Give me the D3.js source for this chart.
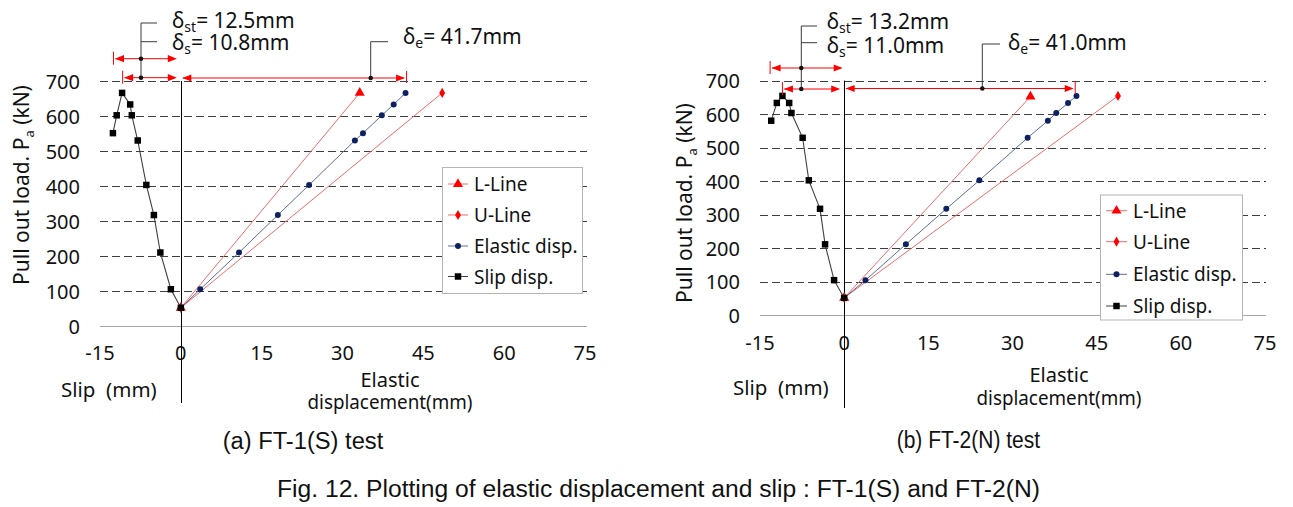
<!DOCTYPE html>
<html><head><meta charset="utf-8">
<script src="https://cdn.jsdelivr.net/npm/d3@7"></script>
<style>body{margin:0;background:#fff}svg{display:block}</style>
</head><body>
<script>
// ---------- data ----------
const xTicks = [-15, 0, 15, 30, 45, 60, 75];
const yTicks = [0, 100, 200, 300, 400, 500, 600, 700];
const legendNames = ["L-Line", "U-Line", "Elastic disp.", "Slip disp."];

// (a) FT-1(S)
const slipA_x = [0, -1.85, -3.8, -5.0, -6.4, -8.0, -9.1, -9.4, -10.9, -11.9, -12.6];
const slipA_y = [52, 105, 210, 317, 403, 530, 602, 633, 666, 602, 551];
const elasticA_x = [0, 3.6, 10.8, 18.0, 23.8, 32.3, 33.8, 37.3, 39.5, 41.7];
const elasticA_y = [52, 105, 210, 317, 403, 530, 551, 602, 633, 666];
const lLineA_x = [0, 33.2], lLineA_y = [52, 666];
const uLineA_x = [0, 48.5], uLineA_y = [52, 666];
const deltaA = {st: 12.5, s: 10.8, e: 41.7};

// (b) FT-2(N)
const slipB_x = [0, -1.8, -3.4, -4.3, -6.3, -7.4, -9.4, -9.8, -11.0, -12.0, -13.0];
const slipB_y = [51, 104, 211, 317, 402, 529, 603, 633, 654, 633, 580];
const elasticB_x = [0, 3.8, 11.0, 18.2, 24.1, 32.7, 36.3, 37.8, 39.9, 41.4];
const elasticB_y = [51, 104, 211, 317, 402, 529, 580, 603, 633, 654];
const lLineB_x = [0, 33.2], lLineB_y = [51, 652];
const uLineB_x = [0, 48.8], uLineB_y = [51, 654];
const deltaB = {st: 13.2, s: 11.0, e: 41.0};

const captionA = "(a) FT-1(S) test";
const captionB = "(b) FT-2(N) test";
const figCaption = "Fig. 12. Plotting of elastic displacement and slip : FT-1(S) and FT-2(N)";

// ---------- layout ----------
const W = 1293, H = 507;
const FONT = "'Noto Sans', 'DejaVu Sans', sans-serif";
const CAPFONT = "'Liberation Sans', 'Arimo', sans-serif";
const RED = "#ff0000", REDLINE = "#f06a6a", NAVY = "#0d2160", BLUELINE = "#5b6f9a", SLIPLINE = "#404040";

const panels = [
  { slipX: slipA_x, slipY: slipA_y, elX: elasticA_x, elY: elasticA_y,
    lX: lLineA_x, lY: lLineA_y, uX: uLineA_x, uY: uLineA_y, delta: deltaA,
    xr: [100, 585], yr: [326, 81], gridX0: 100, gridX1: 587, yTickX: 80, xTickBase: 360, vBottom: 403,
    yTitle: {x: 22, y: 185}, slipLbl: {x: 61, y: 397}, elLbl: {x: 390, y1: 386.5, y2: 409},
    legend: {x: 442.5, y: 167.5, w: 140, h: 126, rows: [184, 215, 246, 276.5], lx0: 448, lx1: 468, tx: 474},
    ann: {rowSt: 58.7, rowS: 77.7, rowE: 78, dotX: 141, dotEX: 370.7, stubSt: 23, stubS: 41.7, stubEnd: 157,
          textX: 172, textStY: 27.5, textSY: 50, eStub: 41.7, eStubEnd: 388, eTextX: 403, eTextY: 44.3,
          insetR: 4, insetR2: 4},
    caption: captionA, capX: 222.7, capW: 160.6, capY: 449 },
  { slipX: slipB_x, slipY: slipB_y, elX: elasticB_x, elY: elasticB_y,
    lX: lLineB_x, lY: lLineB_y, uX: uLineB_x, uY: uLineB_y, delta: deltaB,
    xr: [760, 1265], yr: [315, 80.5], gridX0: 760, gridX1: 1266, yTickX: 740, xTickBase: 350, vBottom: 408,
    yTitle: {x: 685, y: 203}, slipLbl: {x: 733, y: 395}, elLbl: {x: 1059, y1: 381.5, y2: 405},
    legend: {x: 1100.5, y: 195, w: 142, h: 125, rows: [210.7, 241.7, 274.3, 306], lx0: 1106, lx1: 1127, tx: 1133},
    ann: {rowSt: 68, rowS: 89, rowE: 88.5, dotX: 801.3, dotEX: 982.3, stubSt: 26, stubS: 42.7, stubEnd: 817,
          textX: 826.7, textStY: 29.3, textSY: 52.5, eStub: 44, eStubEnd: 1000, eTextX: 1008, eTextY: 50,
          insetR: 1.5, insetR2: 4},
    caption: captionB, capX: 896.7, capW: 143.3, capY: 448 }
];

const svg = d3.select("body").append("svg")
  .attr("width", W).attr("height", H)
  .style("font-family", FONT);

const sym = {
  tri: d3.symbol(d3.symbolTriangle, 44),
  dia: d3.symbol(d3.symbolDiamond, 30),
  cir: d3.symbol(d3.symbolCircle, 28),
  sq: d3.symbol(d3.symbolSquare, 42)
};

function arrowHead(g, tipX, y, dir) { // dir: -1 pointing left, +1 pointing right
  const L = 9, hw = 3.6;
  g.append("path")
    .attr("d", `M${tipX},${y} L${tipX - dir * L},${y - hw} L${tipX - dir * L},${y + hw} Z`)
    .attr("fill", RED);
}

function deltaText(g, x, y, sub, rest) {
  const t = g.append("text").attr("x", x).attr("y", y).attr("font-size", 21).attr("fill", "#111");
  t.append("tspan").text("δ");
  t.append("tspan").attr("font-size", 14).attr("dy", 4).text(sub);
  t.append("tspan").attr("dy", -4).text(rest);
}

panels.forEach(p => {
  const x = d3.scaleLinear().domain([xTicks[0], xTicks[xTicks.length - 1]]).range(p.xr);
  const y = d3.scaleLinear().domain([0, 700]).range(p.yr);
  const g = svg.append("g");

  // gridlines
  g.selectAll("line.grid").data(yTicks.filter(d => d > 0)).join("line")
    .attr("x1", p.gridX0).attr("x2", p.gridX1)
    .attr("y1", d => Math.round(y(d)) + 0.5).attr("y2", d => Math.round(y(d)) + 0.5)
    .attr("stroke", "#3f3f3f").attr("stroke-width", 1).attr("stroke-dasharray", "8,4");
  // zero line
  g.append("line").attr("x1", p.gridX0).attr("x2", p.gridX1)
    .attr("y1", Math.round(y(0)) + 0.5).attr("y2", Math.round(y(0)) + 0.5)
    .attr("stroke", "#a6a6a6").attr("stroke-width", 1);

  // y tick labels
  g.selectAll("text.yt").data(yTicks).join("text")
    .attr("x", p.yTickX).attr("y", d => y(d) + 7.5)
    .attr("text-anchor", "end").attr("font-size", 20).attr("fill", "#111").text(d => d);
  // x tick labels
  g.selectAll("text.xt").data(xTicks).join("text")
    .attr("x", d => x(d)).attr("y", p.xTickBase)
    .attr("text-anchor", "middle").attr("font-size", 20).attr("fill", "#111").text(d => d);

  // vertical line at 0
  g.append("line").attr("x1", Math.round(x(0)) + 0.5).attr("x2", Math.round(x(0)) + 0.5)
    .attr("y1", y(700)).attr("y2", p.vBottom).attr("stroke", "#000").attr("stroke-width", 1);

  // axis titles
  const yt = g.append("text").attr("transform", `translate(${p.yTitle.x},${p.yTitle.y}) rotate(-90)`)
    .attr("text-anchor", "middle").attr("dy", "0.35em").attr("font-size", 21).attr("fill", "#111");
  yt.append("tspan").text("Pull out load. P");
  yt.append("tspan").attr("font-size", 13).attr("dy", 5).text("a");
  yt.append("tspan").attr("dy", -5).text(" (kN)");

  g.append("text").attr("x", p.slipLbl.x).attr("y", p.slipLbl.y).attr("font-size", 20.5)
    .attr("fill", "#111").attr("xml:space", "preserve").text("Slip  (mm)");
  g.append("text").attr("x", p.elLbl.x).attr("y", p.elLbl.y1).attr("font-size", 20)
    .attr("text-anchor", "middle").attr("fill", "#111").text("Elastic");
  g.append("text").attr("x", p.elLbl.x).attr("y", p.elLbl.y2).attr("font-size", 20)
    .attr("text-anchor", "middle").attr("fill", "#111")
    .attr("textLength", 165).attr("lengthAdjust", "spacingAndGlyphs").text("displacement(mm)");

  const line = d3.line().x(d => x(d[0])).y(d => y(d[1]));
  const zip = (a, b) => a.map((v, i) => [v, b[i]]);
  const lPts = zip(p.lX, p.lY), uPts = zip(p.uX, p.uY), ePts = zip(p.elX, p.elY), sPts = zip(p.slipX, p.slipY);

  // L and U lines
  g.append("path").attr("d", line(lPts)).attr("fill", "none").attr("stroke", REDLINE).attr("stroke-width", 1);
  g.append("path").attr("d", line(uPts)).attr("fill", "none").attr("stroke", REDLINE).attr("stroke-width", 1);
  g.selectAll("path.lm").data(lPts).join("path").attr("d", sym.tri)
    .attr("transform", d => `translate(${x(d[0])},${y(d[1])})`).attr("fill", RED);
  g.selectAll("path.um").data(uPts).join("path").attr("d", sym.dia)
    .attr("transform", d => `translate(${x(d[0])},${y(d[1])})`).attr("fill", RED);

  // elastic
  g.append("path").attr("d", line(ePts)).attr("fill", "none").attr("stroke", BLUELINE).attr("stroke-width", 1);
  g.selectAll("path.em").data(ePts).join("path").attr("d", sym.cir)
    .attr("transform", d => `translate(${x(d[0])},${y(d[1])})`).attr("fill", NAVY);

  // slip
  g.append("path").attr("d", line(sPts)).attr("fill", "none").attr("stroke", SLIPLINE).attr("stroke-width", 1.1);
  g.selectAll("path.sm").data(sPts).join("path").attr("d", sym.sq)
    .attr("transform", d => `translate(${x(d[0])},${y(d[1])})`).attr("fill", "#000");

  // ---------- annotations ----------
  const a = p.ann, x0 = x(0);
  const ga = g.append("g");
  const xst = x(-p.delta.st), xs = x(-p.delta.s), xe = x(p.delta.e);
  [[xst, a.rowSt, a.insetR], [xs, a.rowS, a.insetR2]].forEach(([xl, ry, ins]) => {
    ga.append("line").attr("x1", xl).attr("x2", xl).attr("y1", ry - 7).attr("y2", ry + 6)
      .attr("stroke", RED).attr("stroke-width", 1);
    ga.append("line").attr("x1", xl + 2).attr("x2", x0 - ins - 2).attr("y1", ry).attr("y2", ry)
      .attr("stroke", RED).attr("stroke-width", 1);
    arrowHead(ga, xl + 1.5, ry, -1);
    arrowHead(ga, x0 - ins, ry, 1);
  });
  ga.append("line").attr("x1", xe + 1).attr("x2", xe + 1).attr("y1", a.rowE - 7).attr("y2", a.rowE + 5)
    .attr("stroke", RED).attr("stroke-width", 1);
  ga.append("line").attr("x1", x0 + 2).attr("x2", xe - 2).attr("y1", a.rowE).attr("y2", a.rowE)
    .attr("stroke", RED).attr("stroke-width", 1);
  arrowHead(ga, x0 + 1.5, a.rowE, -1);
  arrowHead(ga, xe - 0.5, a.rowE, 1);

  ga.append("path").attr("d", `M${a.stubEnd},${a.stubSt} H${a.dotX} V${a.rowS} M${a.dotX},${a.stubS} H${a.stubEnd}`)
    .attr("fill", "none").attr("stroke", "#3a3a3a").attr("stroke-width", 1);
  ga.append("circle").attr("cx", a.dotX).attr("cy", a.rowSt).attr("r", 2.3).attr("fill", "#111");
  ga.append("circle").attr("cx", a.dotX).attr("cy", a.rowS).attr("r", 2.3).attr("fill", "#111");
  ga.append("path").attr("d", `M${a.dotEX},${a.rowE} V${a.eStub} H${a.eStubEnd}`)
    .attr("fill", "none").attr("stroke", "#3a3a3a").attr("stroke-width", 1);
  ga.append("circle").attr("cx", a.dotEX).attr("cy", a.rowE).attr("r", 2.3).attr("fill", "#111");

  deltaText(ga, a.textX, a.textStY, "st", "= " + p.delta.st.toFixed(1) + "mm");
  deltaText(ga, a.textX, a.textSY, "s", "= " + p.delta.s.toFixed(1) + "mm");
  deltaText(ga, a.eTextX, a.eTextY, "e", "= " + p.delta.e.toFixed(1) + "mm");

  // ---------- legend ----------
  const L = p.legend;
  const gl = g.append("g");
  gl.append("rect").attr("x", L.x).attr("y", L.y).attr("width", L.w).attr("height", L.h)
    .attr("fill", "#fff").attr("stroke", "#b4b4b4").attr("stroke-width", 1);
  const legendStyle = [
    {stroke: REDLINE, shape: sym.tri, fill: RED},
    {stroke: REDLINE, shape: sym.dia, fill: RED},
    {stroke: BLUELINE, shape: sym.cir, fill: NAVY},
    {stroke: SLIPLINE, shape: sym.sq, fill: "#000"}
  ];
  legendNames.forEach((name, i) => {
    const ry = L.rows[i], st = legendStyle[i];
    gl.append("line").attr("x1", L.lx0).attr("x2", L.lx1).attr("y1", ry).attr("y2", ry)
      .attr("stroke", st.stroke).attr("stroke-width", 1);
    gl.append("path").attr("d", st.shape).attr("transform", `translate(${(L.lx0 + L.lx1) / 2},${ry})`).attr("fill", st.fill);
    gl.append("text").attr("x", L.tx).attr("y", ry + 7).attr("font-size", 19).attr("fill", "#111").text(name);
  });

  // caption
  svg.append("text").attr("x", p.capX).attr("y", p.capY).attr("font-family", CAPFONT)
    .attr("font-size", 23).attr("fill", "#111").attr("textLength", p.capW).attr("lengthAdjust", "spacingAndGlyphs")
    .attr("xml:space", "preserve").text(p.caption);
});

svg.append("text").attr("x", 277).attr("y", 497).attr("font-family", CAPFONT)
  .attr("font-size", 23).attr("fill", "#111").attr("textLength", 763).attr("lengthAdjust", "spacingAndGlyphs")
  .text(figCaption);
</script>
</body></html>
